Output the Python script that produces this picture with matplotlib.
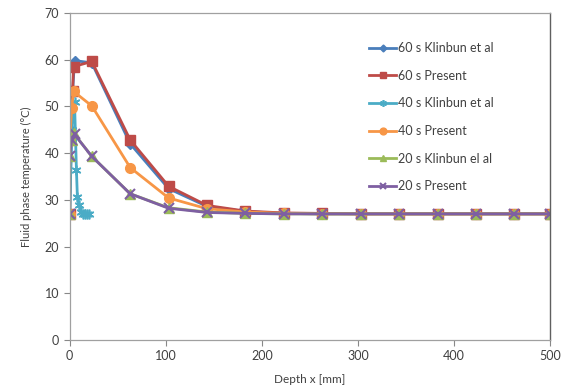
import matplotlib.pyplot as plt

# ---------- data ----------
x_tail = [143, 183, 223, 263, 303, 343, 383, 423, 463, 500]

x_60_kl = [0, 3, 5, 23, 63, 103] + x_tail
y_60_kl = [27, 53.0, 59.8, 59.3, 42.0, 32.4, 28.6, 27.5, 27.1, 27, 27, 27, 27, 27, 27, 27]

x_60_pr = [0, 0, 3, 4, 23, 63, 103] + x_tail
y_60_pr = [27, 44.5, 53.3, 58.5, 59.6, 42.8, 32.9, 28.8, 27.6, 27.2, 27.1, 27, 27, 27, 27, 27, 27]

x_40_kl = [0, 2, 5, 7, 8, 10, 12, 14, 16, 18, 20]
y_40_kl = [27, 45.0, 51.0, 36.4, 30.6, 28.8, 27.3, 27, 27, 27, 27]

x_40_pr = [0, 0, 2, 4, 23, 63, 103] + x_tail
y_40_pr = [27, 42.5, 49.6, 53.2, 50.1, 36.9, 30.4, 28.1, 27.4, 27.1, 27, 27, 27, 27, 27, 27, 27]

x_20_kl = [0, 0, 2, 4, 23, 63, 103] + x_tail
y_20_kl = [27, 39.3, 42.8, 44.3, 39.3, 31.3, 28.3, 27.4, 27.1, 27, 27, 27, 27, 27, 27, 27, 27]

x_20_pr = [0, 0, 2, 5, 23, 63, 103] + x_tail
y_20_pr = [27, 39.3, 42.8, 44.0, 39.3, 31.3, 28.2, 27.3, 27.1, 27, 27, 27, 27, 27, 27, 27, 27]

labels = ["60 s Klinbun et al", "60 s Present", "40 s Klinbun et al",
          "40 s Present", "20 s Klinbun el al", "20 s Present"]

plt.rcParams['font.family'] = ['Lato', 'DejaVu Sans']

fig = plt.figure(figsize=(5.69, 3.90), dpi=100)
ax = fig.add_axes([0.1225, 0.128, 0.844, 0.839])

ax.plot(x_60_kl, y_60_kl, color="#4A7EBB", lw=2, marker="D", ms=5, label=labels[0])
ax.plot(x_60_pr, y_60_pr, color="#BE4B48", lw=2, marker="s", ms=7, label=labels[1])
ax.plot(x_40_kl, y_40_kl, color="#4BACC6", lw=2, marker=(6, 2, 0), ms=7, mew=1.2, label=labels[2])
ax.plot(x_40_pr, y_40_pr, color="#F79646", lw=2, marker="o", ms=7, label=labels[3])
ax.plot(x_20_kl, y_20_kl, color="#9BBB59", lw=2, marker="^", ms=7, label=labels[4])
ax.plot(x_20_pr, y_20_pr, color="#7E5FA2", lw=2, marker="x", ms=7, mew=1.5, label=labels[5])

ax.set_xlim(0, 500)
ax.set_ylim(0, 70)
ax.set_xticks(range(0, 501, 100))
ax.set_yticks(range(0, 71, 10))
ax.tick_params(colors="#888888", labelcolor="#404040", labelsize=9, length=4, width=0.8)
for s in ["left", "bottom", "top"]:
    ax.spines[s].set_color("#A0A0A0")
    ax.spines[s].set_linewidth(0.9)
ax.spines["right"].set_color("#606060")
ax.spines["right"].set_linewidth(1.0)

ax.set_xlabel("Depth x [mm]", fontsize=8.5, color="#404040", labelpad=8)
ax.set_ylabel("Fluid phase temperature (\u00b0C)", fontsize=8, color="#404040", labelpad=9)

leg = ax.legend(loc="upper left", bbox_to_anchor=(0.61, 0.93), frameon=False,
                borderpad=0, fontsize=9, labelspacing=1.25, handlelength=2.2,
                handletextpad=0.15, markerscale=0.7)
for t in leg.get_texts():
    t.set_color("#404040")

fig.savefig("out.png", dpi=100)
